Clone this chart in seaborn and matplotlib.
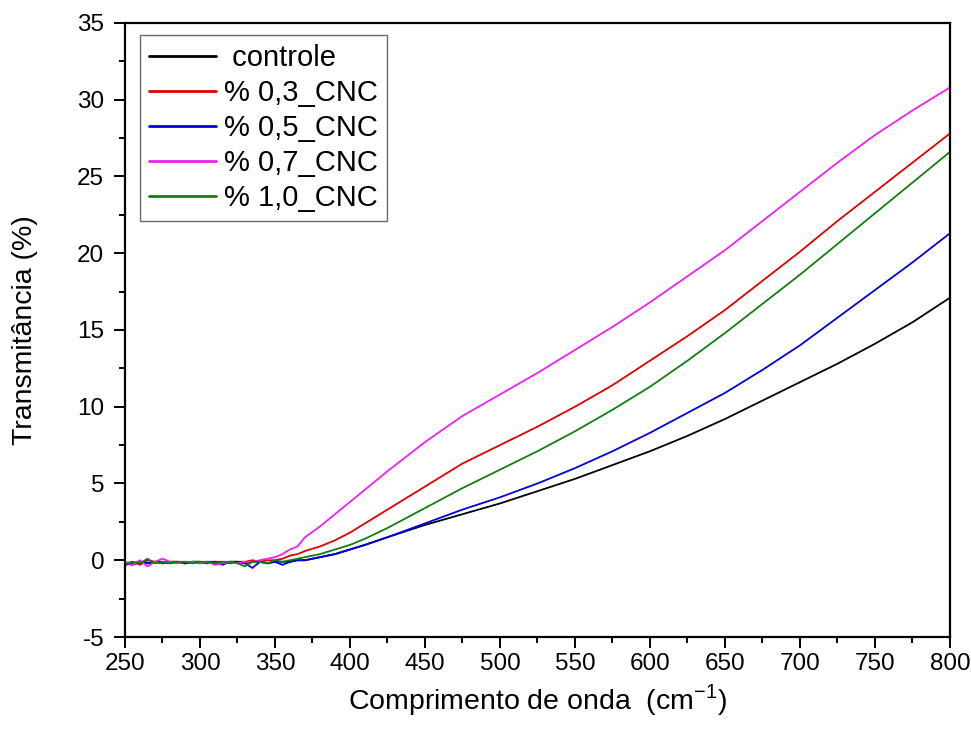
import numpy as np
import pandas as pd
import seaborn as sns
import matplotlib.pyplot as plt
from matplotlib.ticker import MultipleLocator

# wavelength grid (nm); baseline every 5 nm, then coarser along the rise
wl_base = [250, 255, 260, 265, 270, 275, 280, 285, 290, 295, 300, 305, 310,
           315, 320, 325, 330, 335, 340, 345, 350, 355, 360, 365, 370]
wl_rise = [380, 390, 400, 410, 425, 450, 475, 500, 525, 550, 575, 600, 625,
           650, 675, 700, 725, 750, 775, 800]
wavelength = wl_base + wl_rise

controle = [-0.3, -0.2, -0.1, -0.2, -0.1, -0.2, -0.1, -0.1, -0.2, -0.1, -0.1, -0.2, -0.1,
            -0.2, -0.1, -0.1, -0.2, -0.1, -0.1, -0.2, -0.1, -0.1, -0.1, 0.0, 0.0,
            0.2, 0.4, 0.7, 1.0, 1.5, 2.3, 3.0, 3.7, 4.5, 5.3, 6.2, 7.1, 8.1,
            9.2, 10.4, 11.6, 12.8, 14.1, 15.5, 17.1]
cnc_03 = [-0.2, -0.1, -0.3, 0.0, -0.1, -0.2, -0.1, -0.1, -0.2, -0.1, -0.1, -0.2, -0.1,
          -0.1, -0.2, -0.1, -0.1, 0.0, -0.1, 0.0, 0.0, 0.1, 0.3, 0.4, 0.6,
          0.9, 1.3, 1.8, 2.4, 3.3, 4.8, 6.3, 7.5, 8.7, 10.0, 11.4, 13.0, 14.6,
          16.3, 18.2, 20.1, 22.1, 24.0, 25.9, 27.8]
cnc_05 = [-0.2, -0.3, -0.1, -0.2, -0.1, -0.1, -0.2, -0.1, -0.2, -0.1, -0.2, -0.1, -0.1,
          -0.3, -0.1, -0.1, -0.2, -0.5, -0.1, -0.2, -0.1, -0.3, -0.1, 0.0, 0.0,
          0.2, 0.4, 0.7, 1.0, 1.5, 2.4, 3.3, 4.1, 5.0, 6.0, 7.1, 8.3, 9.6,
          10.9, 12.4, 14.0, 15.8, 17.6, 19.4, 21.3]
cnc_07 = [-0.1, -0.3, 0.0, -0.4, -0.1, 0.1, -0.1, -0.2, -0.1, -0.1, -0.2, -0.1, -0.3,
          -0.2, -0.1, -0.2, -0.1, -0.1, 0.0, 0.1, 0.2, 0.4, 0.7, 0.9, 1.5,
          2.2, 3.0, 3.8, 4.6, 5.8, 7.7, 9.4, 10.8, 12.2, 13.7, 15.2, 16.8, 18.5,
          20.2, 22.1, 24.0, 25.9, 27.7, 29.3, 30.8]
cnc_10 = [-0.3, -0.1, -0.2, 0.1, -0.2, -0.1, -0.2, -0.1, -0.1, -0.2, -0.1, -0.1, -0.2,
          -0.1, -0.1, -0.2, -0.4, -0.1, -0.1, -0.2, 0.0, -0.1, 0.0, 0.1, 0.2,
          0.4, 0.7, 1.0, 1.4, 2.1, 3.4, 4.7, 5.9, 7.1, 8.4, 9.8, 11.3, 13.0,
          14.8, 16.7, 18.6, 20.6, 22.6, 24.6, 26.6]

labels = [' controle', '% 0,3_CNC', '% 0,5_CNC', '% 0,7_CNC', '% 1,0_CNC']
series = [controle, cnc_03, cnc_05, cnc_07, cnc_10]
colors = ['#000000', '#e00000', '#0000e0', '#f020f0', '#108010']

frames = []
for lab, vals in zip(labels, series):
    frames.append(pd.DataFrame({'wl': wavelength, 'T': vals, 'amostra': lab}))
df = pd.concat(frames, ignore_index=True)

sns.set_style('white')
plt.rcParams['font.family'] = ['Liberation Sans', 'DejaVu Sans']
plt.rcParams['mathtext.fontset'] = 'custom'
plt.rcParams['mathtext.rm'] = 'Liberation Sans'
plt.rcParams['axes.unicode_minus'] = False
plt.rcParams['text.color'] = 'black'
plt.rcParams['axes.labelcolor'] = 'black'
plt.rcParams['xtick.color'] = 'black'
plt.rcParams['ytick.color'] = 'black'

fig = plt.figure(figsize=(9.71, 7.36), dpi=100)
ax = fig.add_axes([0.1287, 0.1345, 0.8496, 0.8343])

sns.lineplot(data=df, x='wl', y='T', hue='amostra', hue_order=labels,
             palette=colors, linewidth=1.3, ax=ax, sort=False)

ax.set_xlim(250, 800)
ax.set_ylim(-5, 35)
ax.xaxis.set_major_locator(MultipleLocator(50))
ax.xaxis.set_minor_locator(MultipleLocator(25))
ax.yaxis.set_major_locator(MultipleLocator(5))
ax.yaxis.set_minor_locator(MultipleLocator(2.5))
ax.tick_params(which='major', direction='out', length=8, width=1.4,
               labelsize=17.5, bottom=True, left=True, top=False, right=False)
ax.tick_params(axis='y', which='major', pad=7)
ax.tick_params(which='minor', direction='out', length=4.5, width=1.4,
               bottom=True, left=True, top=False, right=False)
for s in ax.spines.values():
    s.set_color('black')
    s.set_linewidth(1.6)

ax.set_xlabel('Comprimento de onda  (cm$^{-1}$)', fontsize=20.5, labelpad=5)
ax.set_ylabel('Transmitância (%)', fontsize=20.5, labelpad=28)

leg = ax.legend(loc='upper left', bbox_to_anchor=(0.018, 0.98), fontsize=21,
                frameon=True, fancybox=False, edgecolor='#444444',
                handlelength=2.3, handletextpad=0.3, labelspacing=0.24,
                borderpad=0.3, borderaxespad=0)
leg.get_frame().set_linewidth(1.0)
for line in leg.get_lines():
    line.set_linewidth(2.0)

fig.savefig('out.png', dpi=100)
